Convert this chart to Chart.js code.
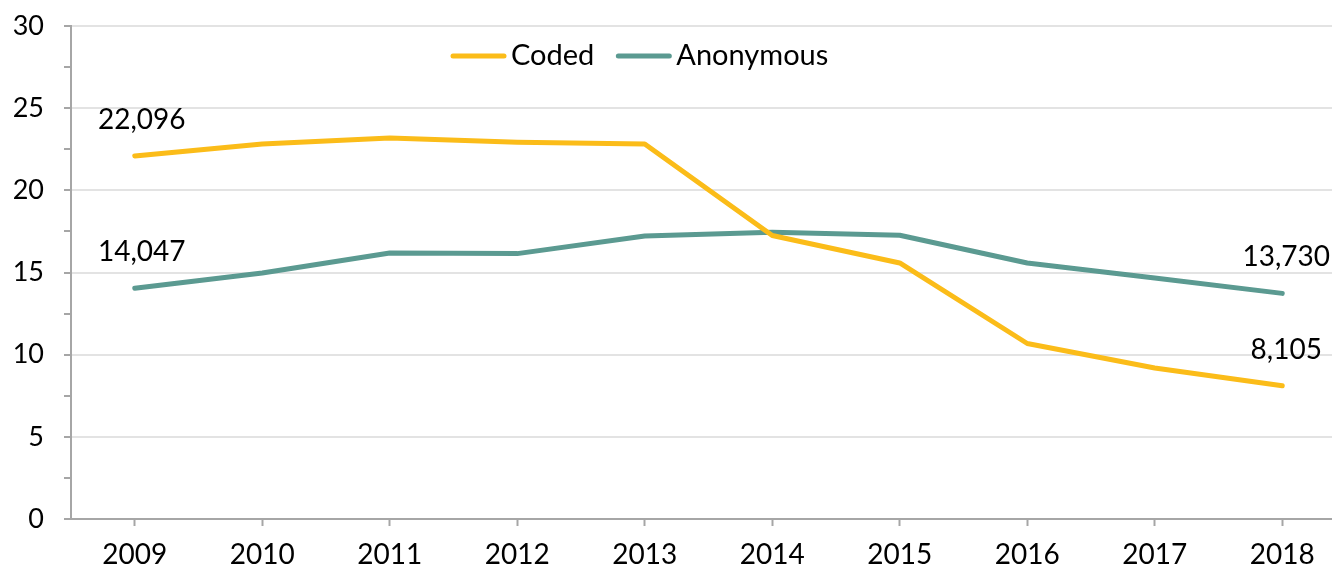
<!DOCTYPE html>
<html>
<head>
<meta charset="utf-8">
<script src="https://cdn.jsdelivr.net/npm/chart.js@4.4.1/dist/chart.umd.min.js"></script>
<style>
    html, body { margin: 0; padding: 0; background: #fff; overflow: hidden; }
    #wrap { width: 1346px; height: 571px; }
</style>
</head>
<body>
<div id="wrap"><canvas id="chart"></canvas></div>
<script>
// values in thousands
var years = ['2009', '2010', '2011', '2012', '2013', '2014', '2015', '2016', '2017', '2018'];
var coded = [22.096, 22.82, 23.19, 22.93, 22.82, 17.25, 15.58, 10.68, 9.19, 8.105];
var anonymous = [14.047, 14.97, 16.19, 16.15, 17.22, 17.45, 17.27, 15.58, 14.67, 13.73];
var seriesNames = ['Coded', 'Anonymous'];
var seriesColors = ['#FBBC19', '#5B9A91'];

var FONT = 'Lato, "DejaVu Sans", sans-serif';

function fmtThousands(v) {
    return Math.round(v * 1000).toLocaleString('en-US');
}

// first/last point labels, nudged like the original
var endLabels = {
    id: 'endLabels',
    afterDatasetsDraw: function(chart) {
        var ctx = chart.ctx;
        ctx.save();
        ctx.font = '28px ' + FONT;
        ctx.fillStyle = '#000';
        ctx.textAlign = 'center';
        ctx.textBaseline = 'middle';
        chart.data.datasets.forEach(function(ds, i) {
            var meta = chart.getDatasetMeta(i);
            var last = ds.data.length - 1;
            [[0, 7], [last, 4]].forEach(function(pair) {
                var pt = meta.data[pair[0]];
                ctx.fillText(fmtThousands(ds.data[pair[0]]), pt.x + pair[1], pt.y - 36);
            });
        });
        ctx.restore();
    }
};

// legend sitting inside the plot area
var innerLegend = {
    id: 'innerLegend',
    afterDraw: function(chart) {
        var ctx = chart.ctx;
        var x = 451, y = 56;
        ctx.save();
        ctx.font = '29px ' + FONT;
        ctx.textBaseline = 'middle';
        ctx.lineCap = 'round';
        chart.data.datasets.forEach(function(ds) {
            ctx.strokeStyle = ds.borderColor;
            ctx.lineWidth = 5;
            ctx.beginPath();
            ctx.moveTo(x + 2, y);
            ctx.lineTo(x + 53, y);
            ctx.stroke();
            ctx.fillStyle = '#000';
            ctx.fillText(ds.label, x + 60, y);
            x += 60 + ctx.measureText(ds.label).width + 22;
        });
        ctx.restore();
    }
};

new Chart(document.getElementById('chart'), {
    type: 'line',
    data: {
        labels: years,
        datasets: [
            { label: seriesNames[0], data: coded, borderColor: seriesColors[0] },
            { label: seriesNames[1], data: anonymous, borderColor: seriesColors[1] }
        ]
    },
    options: {
        responsive: true,
        maintainAspectRatio: false,
        animation: false,
        layout: { padding: { top: 26, right: 0, bottom: 0, left: 0 } },
        elements: {
            line: { borderWidth: 5, tension: 0, borderCapStyle: 'round', borderJoinStyle: 'round', fill: false },
            point: { radius: 0, hoverRadius: 0 }
        },
        plugins: {
            legend: { display: false },
            tooltip: { enabled: false }
        },
        scales: {
            x: {
                offset: true,
                grid: {
                    offset: false,
                    drawOnChartArea: false,
                    drawTicks: true,
                    tickLength: 7,
                    tickColor: '#a6a6a6',
                    tickWidth: 2
                },
                border: { color: '#a6a6a6', width: 2 },
                ticks: { color: '#000', font: { family: FONT, size: 28 }, padding: 12, maxRotation: 0 },
                afterFit: function(s) { s.height = 52; s.paddingLeft = 0; s.paddingRight = 0; }
            },
            y: {
                min: 0,
                max: 30,
                grid: {
                    color: function(c) { return c.tick && c.tick.value % 5 === 0 ? '#e3e3e3' : 'transparent'; },
                    lineWidth: 2,
                    tickLength: 7,
                    tickColor: '#a6a6a6',
                    tickWidth: 2
                },
                border: { color: '#a6a6a6', width: 2 },
                ticks: {
                    stepSize: 2.5,
                    autoSkip: false,
                    color: '#000',
                    font: { family: FONT, size: 27 },
                    padding: 20,
                    callback: function(v) { return v % 5 === 0 ? v : ''; }
                },
                afterFit: function(s) { s.width = 71; s.paddingTop = 0; s.paddingBottom = 0; }
            }
        }
    },
    plugins: [endLabels, innerLegend]
});
</script>
</body>
</html>
